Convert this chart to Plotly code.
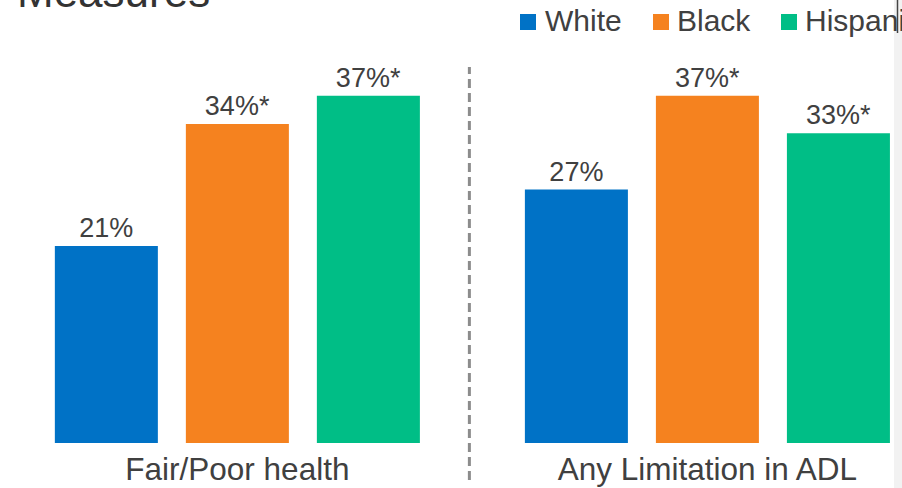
import plotly.graph_objects as go

# ---- data ----
categories = ["Fair/Poor health", "Any Limitation in ADL"]
groups = ["White", "Black", "Hispanic"]
white_vals = [21, 27]
black_vals = [34, 37]
hispanic_vals = [37, 33]
white_sig = [False, False]
black_sig = [True, True]
hispanic_sig = [True, True]
colors = ["#0072C6", "#F5821F", "#00BE86"]
title_text = "Measures"

W, H = 902, 488
MB = 45
PH = H - MB  # plot height (t=0)

def px_x(p):
    return p / W

def px_y(p):
    return (PH - p) / PH

FONT = "Liberation Sans, Arial, sans-serif"
TXT = "#404040"

fig = go.Figure()
series = [(white_vals, white_sig), (black_vals, black_sig), (hispanic_vals, hispanic_sig)]
for name, (vals, sig), col in zip(groups, series, colors):
    fig.add_trace(go.Bar(
        name=name, x=categories, y=vals,
        marker=dict(color=col, line=dict(width=0)),
        text=[f"{v}%" + ("*" if s else "") for v, s in zip(vals, sig)],
        textposition="outside", cliponaxis=False,
        textfont=dict(family=FONT, size=27, color=TXT),
        showlegend=False,
    ))

shapes = []
annotations = []

# dashed separator between the two groups
shapes.append(dict(type="line", xref="x", yref="paper", x0=0.4936, x1=0.4936,
                   y0=px_y(480), y1=px_y(67),
                   line=dict(color="#8c8c8c", width=3, dash="9px,5px")))

# manual legend
leg_sq_x = [520, 653, 781]
leg_tx_x = [543, 675, 803]
for name, col, sx, tx in zip(groups, colors, leg_sq_x, leg_tx_x):
    shapes.append(dict(type="rect", xref="paper", yref="paper",
                       x0=px_x(sx), x1=px_x(sx + 16), y0=px_y(30), y1=px_y(14),
                       fillcolor=col, line=dict(width=0)))
    annotations.append(dict(text=name, xref="paper", yref="paper",
                            x=px_x(tx), y=px_y(20.5), xanchor="left", yanchor="middle",
                            showarrow=False, font=dict(family=FONT, size=30, color=TXT)))

# cut-off title
annotations.append(dict(text=title_text, xref="paper", yref="paper",
                        x=px_x(15), y=px_y(18), xanchor="left", yanchor="bottom",
                        showarrow=False, font=dict(family=FONT, size=44, color="#333333")))

# right-edge screenshot border
shapes.append(dict(type="rect", xref="paper", yref="paper", x0=px_x(894), x1=1.0,
                   y0=px_y(H), y1=px_y(0), fillcolor="#f2f2f2", line=dict(width=0), layer="above"))
shapes.append(dict(type="line", xref="paper", yref="paper", x0=px_x(897.5), x1=px_x(897.5),
                   y0=px_y(33), y1=px_y(0), line=dict(color="#444444", width=1.5), layer="above"))

fig.update_layout(
    width=W, height=H,
    margin=dict(l=0, r=0, t=0, b=MB, pad=0),
    paper_bgcolor="white", plot_bgcolor="white",
    barmode="group", bargap=0.1638, bargroupgap=0.2137,
    shapes=shapes, annotations=annotations,
    font=dict(family=FONT, color=TXT),
    xaxis=dict(type="category", range=[-0.505, 1.414], showgrid=False, zeroline=False,
               showline=False, ticks="", ticklabelstandoff=4,
               tickfont=dict(family=FONT, size=31.5, color=TXT)),
    yaxis=dict(range=[0, 47.2], visible=False, fixedrange=True),
    showlegend=False,
)

fig.write_html("out.html")
